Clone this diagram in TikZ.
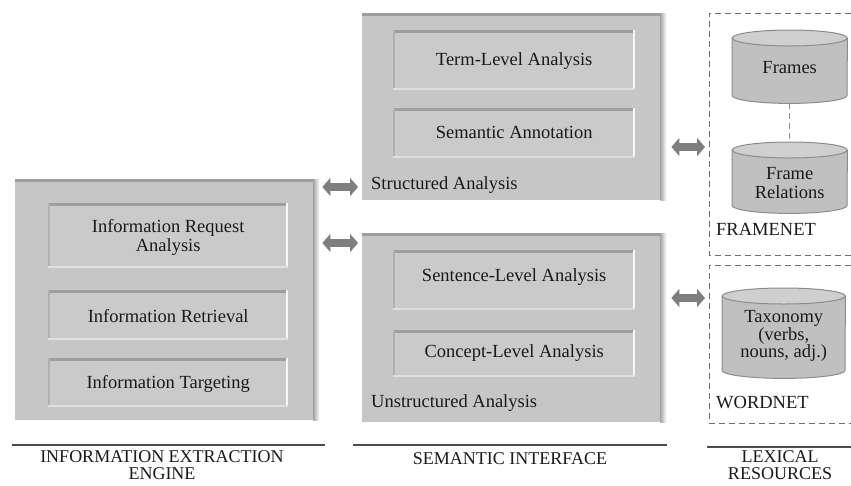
\documentclass[tikz,border=0pt]{standalone}
\usepackage{fontspec}
\setmainfont{Liberation Serif}
\usetikzlibrary{arrows.meta}
\definecolor{boxfill}{HTML}{C6C6C6}
\definecolor{innerfill}{HTML}{CACACA}
\definecolor{edgedark}{HTML}{9E9E9E}
\definecolor{boxshadow}{HTML}{A8A8A8}
\definecolor{arrowgray}{HTML}{7E7E7E}
\definecolor{cylfill}{HTML}{C0C0C0}
\definecolor{cyltop}{HTML}{CFCFCF}
\definecolor{cylline}{HTML}{8C8C8C}
\definecolor{dashgray}{HTML}{707070}
\definecolor{txt}{HTML}{1A1A1A}
\newcommand\bevelbox[1]{%
  \fill[edgedark] (#1.north west) rectangle ([yshift=-2.5pt]#1.north east);
  \fill[edgedark!60!innerfill] (#1.north west) rectangle ([xshift=1.5pt]#1.south west);
  \fill[white!85!innerfill] ([xshift=-2.5pt]#1.north east) rectangle (#1.south east);
  \fill[white!40!innerfill] (#1.south west) rectangle ([yshift=2pt]#1.south east);
}
\newcommand\outerdeco[1]{%
  \fill[edgedark] (#1.north west) rectangle ([yshift=-3pt,xshift=4pt]#1.north east);
  \shade[left color=boxshadow, right color=white] (#1.north east) rectangle ([xshift=6pt]#1.south east);
}
\newcommand\cylshape[2]{%
  \fill[cylfill] ([yshift=-8pt]#1.north west) -- ([yshift=8pt]#1.south west)
     arc[start angle=180,end angle=360,x radius=#2,y radius=8pt] -- ([yshift=-8pt]#1.north east) -- cycle;
  \draw[cylline, line width=1pt] ([yshift=-8pt]#1.north west) -- ([yshift=8pt]#1.south west)
     arc[start angle=180,end angle=360,x radius=#2,y radius=8pt] -- ([yshift=-8pt]#1.north east);
  \filldraw[cylline, line width=1pt, fill=cyltop] ([yshift=-8pt]#1.north) ellipse[x radius=#2, y radius=8pt];
}
\begin{document}
\begin{tikzpicture}[x=1pt,y=1pt,
  every node/.style={font=\fontsize{18.5}{19}\selectfont, text=txt},
  outerbox/.style={fill=boxfill, inner sep=0pt, anchor=north west},
  innerbox/.style={fill=innerfill, inner sep=0pt, anchor=north west},
  region/.style={inner sep=0pt, anchor=north west},
  lbl/.style={anchor=west, inner sep=0pt},
  headtxt/.style={align=center, inner sep=0pt, font=\fontsize{18}{17}\selectfont},
  bigarrow/.style={draw=arrowgray, line width=8pt,
     {Triangle[length=8pt,width=18pt]}-{Triangle[length=8pt,width=18pt]}},
  dashbox/.style={draw=dashgray, dashed, line width=0.9pt, dash pattern=on 6pt off 4pt},
  headline/.style={draw=black!70, line width=2pt}
]
\useasboundingbox (0,0) rectangle (851,-485);
\fill[white] (0,0) rectangle (851,-485);

% ---------- Information extraction engine ----------
\node[outerbox, minimum width=298pt, minimum height=241pt] (ie) at (15,-179) {};
\outerdeco{ie}
\node[innerbox, minimum width=240pt, minimum height=65pt] (ira) at (48,-203) {};
\bevelbox{ira}
\node[align=center, inner sep=0pt] (irat) at ([yshift=-2pt]ira.center) {Information Request\\Analysis};
\node[innerbox, minimum width=240pt, minimum height=50pt] (irv) at (48,-290) {};
\bevelbox{irv}
\node[inner sep=0pt] (irvt) at ([yshift=-1pt]irv.center) {Information Retrieval};
\node[innerbox, minimum width=240pt, minimum height=49pt] (itg) at (48,-358) {};
\bevelbox{itg}
\node[inner sep=0pt] (itgt) at ([yshift=-1pt]itg.center) {Information Targeting};

% ---------- Structured analysis ----------
\node[outerbox, minimum width=298pt, minimum height=187pt] (sa) at (362,-13) {};
\outerdeco{sa}
\node[innerbox, minimum width=242pt, minimum height=60pt] (tla) at (393,-30) {};
\bevelbox{tla}
\node[inner sep=0pt] (tlat) at ([yshift=-1pt]tla.center) {Term-Level Analysis};
\node[innerbox, minimum width=242pt, minimum height=50pt] (san) at (393,-108) {};
\bevelbox{san}
\node[inner sep=0pt] (sant) at ([yshift=1pt]san.center) {Semantic Annotation};
\node[lbl] (sal) at (371,-185) {Structured Analysis};

% ---------- Unstructured analysis ----------
\node[outerbox, minimum width=298pt, minimum height=189pt] (ua) at (362,-233) {};
\outerdeco{ua}
\node[innerbox, minimum width=242pt, minimum height=60pt] (sla) at (393,-250) {};
\bevelbox{sla}
\node[inner sep=0pt] (slat) at ([yshift=3pt]sla.center) {Sentence-Level Analysis};
\node[innerbox, minimum width=242pt, minimum height=47pt] (cla) at (393,-330) {};
\bevelbox{cla}
\node[inner sep=0pt] (clat) at ([yshift=1pt]cla.center) {Concept-Level Analysis};
\node[lbl] (ual) at (371,-403) {Unstructured Analysis};

% ---------- FrameNet ----------
\node[region, minimum width=150pt, minimum height=242pt] (fn) at (709,-13) {};
\draw[dashbox] ([xshift=142pt]fn.north west) -- (fn.north west) -- (fn.south west) -- ([xshift=142pt]fn.south west);
\node[region, minimum width=115pt, minimum height=73pt] (frames) at (732,-30) {};
\cylshape{frames}{57.5pt}
\node[inner sep=0pt] (framest) at ([yshift=-1pt]frames.center) {Frames};
\node[region, minimum width=115pt, minimum height=71pt] (frel) at (732,-142) {};
\cylshape{frel}{57.5pt}
\node[align=center, inner sep=0pt] (frelt) at ([yshift=-5pt]frel.center) {Frame\\Relations};
\draw[dashbox, draw=cylline] (frames.south) -- (frel.north);
\node[lbl] (fnl) at (716,-229) {FRAMENET};

% ---------- WordNet ----------
\node[region, minimum width=150pt, minimum height=158pt] (wn) at (709,-265) {};
\draw[dashbox] ([xshift=142pt]wn.north west) -- (wn.north west) -- (wn.south west) -- ([xshift=142pt]wn.south west);
\node[region, minimum width=123pt, minimum height=90pt] (tax) at (722,-288) {};
\cylshape{tax}{61.5pt}
\node[align=center, inner sep=0pt, font=\fontsize{18.5}{17.5}\selectfont] (taxt) at ([yshift=-3pt]tax.center) {Taxonomy\\(verbs,\\nouns, adj.)};
\node[lbl] (wnl) at (716,-403) {WORDNET};

% ---------- Connectors ----------
\coordinate (r1) at (0,-187);
\coordinate (r2) at (0,-243);
\coordinate (r3) at (0,-147);
\coordinate (r4) at (0,-298);
\draw[bigarrow, shorten <=9pt, shorten >=4pt] (ie.east |- r1) -- (sa.west |- r1);
\draw[bigarrow, shorten <=9pt, shorten >=4pt] (ie.east |- r2) -- (ua.west |- r2);
\draw[bigarrow, shorten <=11pt, shorten >=4pt] (sa.east |- r3) -- (fn.west |- r3);
\draw[bigarrow, shorten <=11pt, shorten >=4pt] (ua.east |- r4) -- (wn.west |- r4);

% ---------- Bottom headings ----------
\draw[headline] (12,-445) -- (325,-445);
\draw[headline] (353,-445) -- (667,-445);
\draw[headline] (707,-447) -- (851,-447);
\node[headtxt] (h1) at (162,-465) {INFORMATION EXTRACTION\\ENGINE};
\node[headtxt] (h2) at (510,-459) {SEMANTIC INTERFACE};
\node[headtxt] (h3) at (780,-465) {LEXICAL\\RESOURCES};
\end{tikzpicture}
\end{document}
